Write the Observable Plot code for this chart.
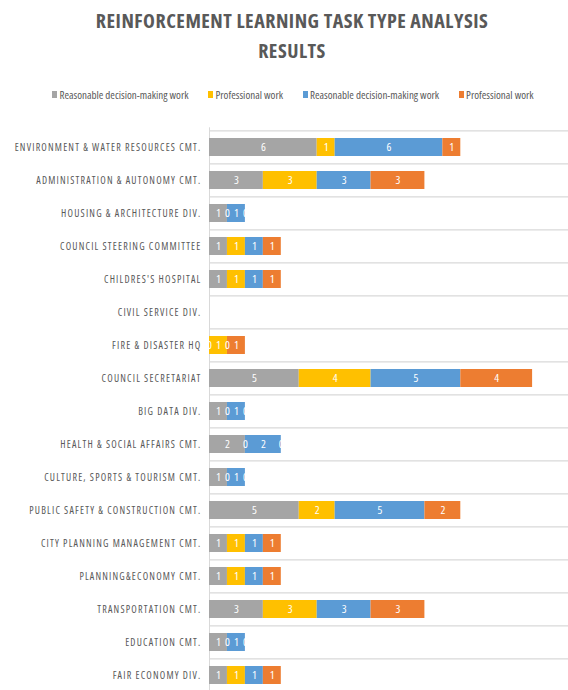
<!DOCTYPE html>
<html>
<head>
<meta charset="utf-8">
<script src="https://cdn.jsdelivr.net/npm/d3@7"></script>
<script src="https://cdn.jsdelivr.net/npm/@observablehq/plot@0.6"></script>
<style>
  html, body { margin: 0; padding: 0; background: #fff; overflow: hidden; width: 568px; height: 690px; }
  body { position: relative; font-family: "Open Sans", sans-serif; font-stretch: 75%; color: #595959; }
  #title { position: absolute; left: 8px; top: 6px; width: 568px; text-align: center; font-size: 20px; line-height: 30px; font-weight: 700; letter-spacing: 0.5px; }
  #legend { position: absolute; left: 9px; top: 86px; width: 568px; height: 16px; display: flex; justify-content: center; align-items: center; gap: 20px; font-size: 11px; }
  #legend .item { display: flex; align-items: center; white-space: nowrap; }
  #legend .sw { display: inline-block; width: 5px; height: 7px; margin-right: 2px; }
  #chart { position: absolute; left: 0; top: 110px; }
  #chart svg text { font-stretch: 75%; }
</style>
</head>
<body>
<div id="title">REINFORCEMENT LEARNING TASK TYPE ANALYSIS<br>RESULTS</div>
<div id="legend"></div>
<div id="chart"></div>
<script>
// Departments, top to bottom
const categories = [
  "ENVIRONMENT & WATER RESOURCES CMT.",
  "ADMINISTRATION & AUTONOMY CMT.",
  "HOUSING & ARCHITECTURE DIV.",
  "COUNCIL STEERING COMMITTEE",
  "CHILDRES'S HOSPITAL",
  "CIVIL SERVICE DIV.",
  "FIRE & DISASTER HQ",
  "COUNCIL SECRETARIAT",
  "BIG DATA DIV.",
  "HEALTH & SOCIAL AFFAIRS CMT.",
  "CULTURE, SPORTS & TOURISM CMT.",
  "PUBLIC SAFETY & CONSTRUCTION CMT.",
  "CITY PLANNING MANAGEMENT CMT.",
  "PLANNING&ECONOMY CMT.",
  "TRANSPORTATION CMT.",
  "EDUCATION CMT.",
  "FAIR ECONOMY DIV."
];

// Four stacked series (names repeat, so each gets its own key)
const seriesKeys = ["s1", "s2", "s3", "s4"];
const seriesNames = ["Reasonable decision-making work", "Professional work", "Reasonable decision-making work", "Professional work"];
const seriesColors = ["#A5A5A5", "#FFC000", "#5B9BD5", "#ED7D31"];

// Task counts per department (null = no data)
const reasoning1    = [6, 3, 1, 1, 1, null, 0, 5, 1, 2, 1, 5, 1, 1, 3, 1, 1];
const professional1 = [1, 3, 0, 1, 1, null, 1, 4, 0, 0, 0, 2, 1, 1, 3, 0, 1];
const reasoning2    = [6, 3, 1, 1, 1, null, 0, 5, 1, 2, 1, 5, 1, 1, 3, 1, 1];
const professional2 = [1, 3, 0, 1, 1, null, 1, 4, 0, 0, 0, 2, 1, 1, 3, 0, 1];

const seriesValues = [reasoning1, professional1, reasoning2, professional2];

// Long format, already in stacking order within each department
const rows = [];
categories.forEach((c, i) => {
  seriesKeys.forEach((k, j) => {
    const v = seriesValues[j][i];
    if (v != null) rows.push({category: c, series: k, value: v});
  });
});

// Legend
const legend = document.getElementById("legend");
seriesKeys.forEach((k, j) => {
  const item = document.createElement("span");
  item.className = "item";
  const sw = document.createElement("span");
  sw.className = "sw";
  sw.style.background = seriesColors[j];
  item.appendChild(sw);
  item.appendChild(document.createTextNode(seriesNames[j]));
  legend.appendChild(item);
});

const nRows = categories.length;
const marginTop = 17.3;
const step = 33.35;
const height = Math.round(marginTop + step * nRows);

const chart = Plot.plot({
  width: 568,
  height: height,
  marginLeft: 209,
  marginRight: 0,
  marginTop: marginTop,
  marginBottom: 0,
  style: {fontFamily: '"Open Sans", sans-serif', fontSize: "10px", color: "#595959", background: "transparent"},
  x: {domain: [0, 20], axis: null},
  y: {domain: categories, paddingInner: 0.45, paddingOuter: 0.225, label: null, tickSize: 0, tickPadding: 8},
  color: {domain: seriesKeys, range: seriesColors},
  marks: [
    Plot.ruleY(categories, {y: d => d, dy: -step / 2, stroke: "#D9D9D9", strokeWidth: 1.3}),
    Plot.ruleX([0], {stroke: "#D9D9D9", strokeWidth: 1}),
    Plot.barX(rows, Plot.stackX({x: "value", y: "category", z: "series", fill: "series"})),
    Plot.text(rows, Plot.stackX({x: "value", y: "category", z: "series", text: d => String(d.value), fill: "white", fontSize: 11.5}))
  ]
});
chart.querySelectorAll("[aria-label='y-axis tick label'] text").forEach(t => t.setAttribute("letter-spacing", "1.2"));
document.getElementById("chart").appendChild(chart);
</script>
</body>
</html>
